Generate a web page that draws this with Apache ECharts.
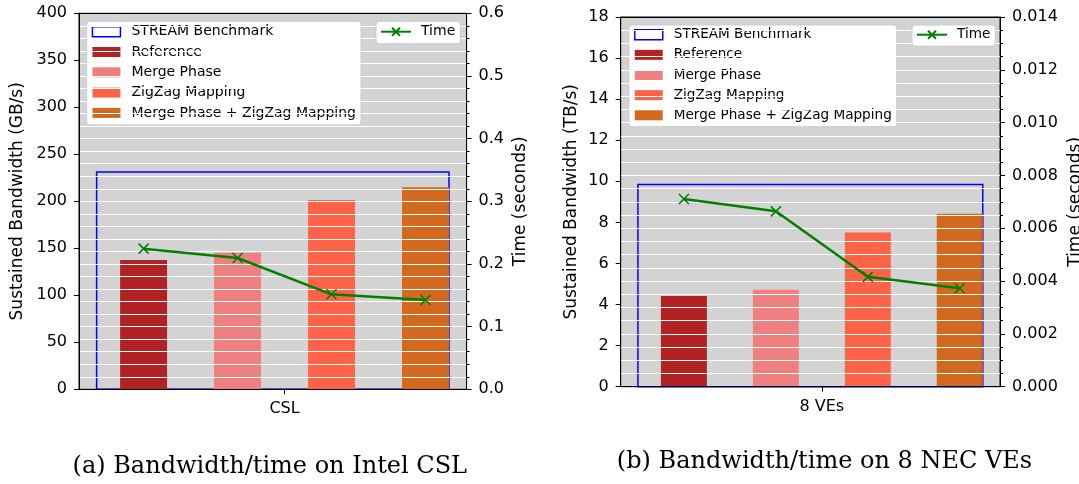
<!DOCTYPE html>
<html><head><meta charset="utf-8">
<script src="https://cdn.jsdelivr.net/npm/echarts@6/dist/echarts.min.js"></script>
<style>html,body{margin:0;padding:0;background:#fff}#c{width:1079px;height:484px}</style>
</head><body><div id="c"></div>
<script>
// ---------------- data ----------------
const methods = ['Reference', 'Merge Phase', 'ZigZag Mapping', 'Merge Phase + ZigZag Mapping'];
const streamName = 'STREAM Benchmark';
const timeName = 'Time';
const panelCategories = ['CSL', '8 VEs'];
const captions = ['(a) Bandwidth/time on Intel CSL', '(b) Bandwidth/time on 8 NEC VEs'];
const bwAxisNames = ['Sustained Bandwidth (GB/s)', 'Sustained Bandwidth (TB/s)'];
const timeAxisName = 'Time (seconds)';

const cslBandwidth = [137.6, 145.3, 201.4, 214.9];      // GB/s
const cslTime = [0.2244, 0.2095, 0.1516, 0.1425];       // seconds
const cslStream = 231.2;                                 // GB/s

const veBandwidth = [4.42, 4.72, 7.51, 8.42];           // TB/s
const veTime = [0.00711, 0.00664, 0.00416, 0.00373];    // seconds
const veStream = 9.84;                                   // TB/s

const cslBwTicks = [0, 400, 50];       // min, max, interval
const cslTimeTicks = [0, 0.6, 0.1];
const veBwTicks = [0, 18, 2];
const veTimeTicks = [0, 0.014, 0.002];

// ---------------- layout / style ----------------
const colors = ['#b22222', '#f08080', '#ff6347', '#d2691e'];
const barPos = [-0.3, -0.1, 0.1, 0.3];   // bar centres (matplotlib-style offsets)
const barHalf = 0.05;
const streamSpan = [-0.4, 0.35];
const xRange = [-0.4375, 0.3875];
const FONT = 'DejaVu Sans';

const panels = [
  {bw: cslBandwidth, time: cslTime, stream: cslStream, bwT: cslBwTicks, tT: cslTimeTicks, tDec: 1, minor: 5,
   grid: {left: 79, top: 13.3, width: 387.6, height: 376},
   bwGap: 53, tGap: 45, legA: [86.7, 21.3], legB: [376, 21.3], legFont: 14, legPad: [2.4, 5, 4, 5], legGap: 4.3},
  {bw: veBandwidth, time: veTime, stream: veStream, bwT: veBwTicks, tT: veTimeTicks, tDec: 3, minor: 4,
   grid: {left: 620.7, top: 17, width: 379.3, height: 369.7},
   bwGap: 41, tGap: 67, legA: [629, 25], legB: [912, 25], legFont: 13.6, legPad: [1.7, 5, 3.4, 5], legGap: 4.15}
];

const grid = [], xAxis = [], yAxis = [], series = [], legend = [];
panels.forEach((p, k) => {
  grid.push(Object.assign({show: true, backgroundColor: '#d3d3d3', borderColor: '#000', borderWidth: 1,
    containLabel: false, outerBoundsMode: 'none'}, p.grid));
  xAxis.push({
    gridIndex: k, type: 'value', min: xRange[0], max: xRange[1], position: 'bottom', z: 6,
    axisLine: {show: true, onZero: false, lineStyle: {color: '#000', width: 1}},
    axisTick: {show: true, customValues: [0], length: 5, lineStyle: {color: '#000', width: 1}},
    axisLabel: {show: true, customValues: [0], margin: 12, fontSize: 16, color: '#000', fontFamily: FONT,
      formatter: v => Math.abs(v) < 1e-9 ? panelCategories[k] : ''},
    splitLine: {show: false}
  });
  xAxis.push({
    gridIndex: k, type: 'value', min: xRange[0], max: xRange[1], position: 'top', z: 6,
    axisLine: {show: true, onZero: false, lineStyle: {color: '#000', width: 1}},
    axisTick: {show: false}, axisLabel: {show: false}, splitLine: {show: false}
  });
  yAxis.push({
    gridIndex: k, type: 'value', position: 'left', min: p.bwT[0], max: p.bwT[1], interval: p.bwT[2], z: 5,
    name: bwAxisNames[k], nameLocation: 'middle', nameRotate: 90, nameGap: p.bwGap,
    nameTextStyle: {fontSize: 17, color: '#000', fontFamily: FONT},
    axisLine: {show: true, onZero: false, lineStyle: {color: '#000', width: 1}},
    axisTick: {show: true, length: 5, lineStyle: {color: '#000', width: 1}},
    axisLabel: {margin: 12, fontSize: 16, color: '#000', fontFamily: FONT},
    splitLine: {show: false}
  });
  yAxis.push({
    gridIndex: k, type: 'value', position: 'right', min: p.tT[0], max: p.tT[1], interval: p.tT[2], z: 5,
    name: timeAxisName, nameLocation: 'middle', nameRotate: 90, nameGap: p.tGap,
    nameTextStyle: {fontSize: 17, color: '#000', fontFamily: FONT},
    axisLine: {show: true, onZero: false, lineStyle: {color: '#000', width: 1}},
    axisTick: {show: true, length: 5, lineStyle: {color: '#000', width: 1}},
    minorTick: {show: true, splitNumber: p.minor, length: 3, lineStyle: {color: '#000', width: 1}},
    axisLabel: {margin: 12, fontSize: 16, color: '#000', fontFamily: FONT, formatter: v => v.toFixed(p.tDec)},
    splitLine: {show: true, lineStyle: {color: '#ffffff', width: 1}},
    minorSplitLine: {show: true, lineStyle: {color: '#ffffff', width: 1}}
  });

  // STREAM benchmark outline bar
  series.push({
    type: 'custom', name: streamName, xAxisIndex: 2 * k, yAxisIndex: 2 * k,
    data: [[streamSpan[0], streamSpan[1], p.stream]], encode: {x: [0, 1], y: 2},
    itemStyle: {color: '#ffffff', borderColor: '#0000ff', borderWidth: 1.5}, z: 2,
    renderItem: (params, api) => {
      const a = api.coord([api.value(0), api.value(2)]);
      const b = api.coord([api.value(1), 0]);
      return {type: 'rect', shape: {x: a[0], y: a[1], width: b[0] - a[0], height: b[1] - a[1]},
        style: {fill: 'none', stroke: '#0000ff', lineWidth: 1.5}};
    }
  });
  // method bars
  methods.forEach((m, i) => {
    series.push({
      type: 'custom', name: m, xAxisIndex: 2 * k, yAxisIndex: 2 * k,
      data: [[barPos[i], p.bw[i]]], encode: {x: 0, y: 1},
      itemStyle: {color: colors[i]}, z: 2,
      renderItem: (params, api) => {
        const x = api.value(0);
        const a = api.coord([x - barHalf, api.value(1)]);
        const b = api.coord([x + barHalf, 0]);
        return {type: 'rect', shape: {x: a[0], y: a[1], width: b[0] - a[0], height: b[1] - a[1]},
          style: {fill: colors[i]}};
      }
    });
  });
  // time line
  series.push({
    type: 'line', name: timeName, xAxisIndex: 2 * k, yAxisIndex: 2 * k + 1, z: 10,
    data: p.time.map((t, i) => [barPos[i], t]),
    lineStyle: {color: '#008000', width: 2.5},
    symbol: 'path://M0,0L10,10M10,0L0,10', symbolSize: 10,
    itemStyle: {color: '#008000', borderColor: '#008000', borderWidth: 1.6},
    showSymbol: true
  });

  const common = {
    orient: 'vertical', itemWidth: 28, itemHeight: 10, itemGap: p.legGap, padding: p.legPad,
    backgroundColor: '#ffffff', borderColor: '#cccccc', borderWidth: 1, borderRadius: 3,
    selectedMode: false,
    textStyle: {fontSize: p.legFont, color: '#000', fontFamily: FONT, lineHeight: 16, padding: [0, 0, 0, 6]}
  };
  // bar legend sits under the twin-axis grid lines (as in the original figure)
  legend.push(Object.assign({}, common, {
    left: p.legA[0], top: p.legA[1], z: 3,
    data: [{name: streamName, icon: 'rect', itemStyle: {color: '#ffffff', borderColor: '#0000ff', borderWidth: 1.5}}]
      .concat(methods.map((m, i) => ({name: m, icon: 'rect', itemStyle: {color: colors[i], borderWidth: 0}})))
  }));
  legend.push(Object.assign({}, common, {
    left: p.legB[0], top: p.legB[1], itemWidth: 30, z: 20,
    textStyle: Object.assign({}, common.textStyle, {padding: [0, 0, 0, 5]}),
    padding: [p.legPad[0], 5, p.legPad[2], 4],
    data: [{name: timeName}]
  }));
});

const chart = echarts.init(document.getElementById('c'), null, {renderer: 'canvas'});
chart.setOption({
  animation: false,
  textStyle: {fontFamily: FONT},
  grid, xAxis, yAxis, series, legend,
  graphic: [
    {type: 'text', x: 269.8, y: 467, style: {text: captions[0], fontFamily: 'DejaVu Serif', fontSize: 24, fill: '#000', textAlign: 'center', textVerticalAlign: 'middle'}},
    {type: 'text', x: 824.5, y: 461.7, style: {text: captions[1], fontFamily: 'DejaVu Serif', fontSize: 24, fill: '#000', textAlign: 'center', textVerticalAlign: 'middle'}}
  ]
});
</script></body></html>
